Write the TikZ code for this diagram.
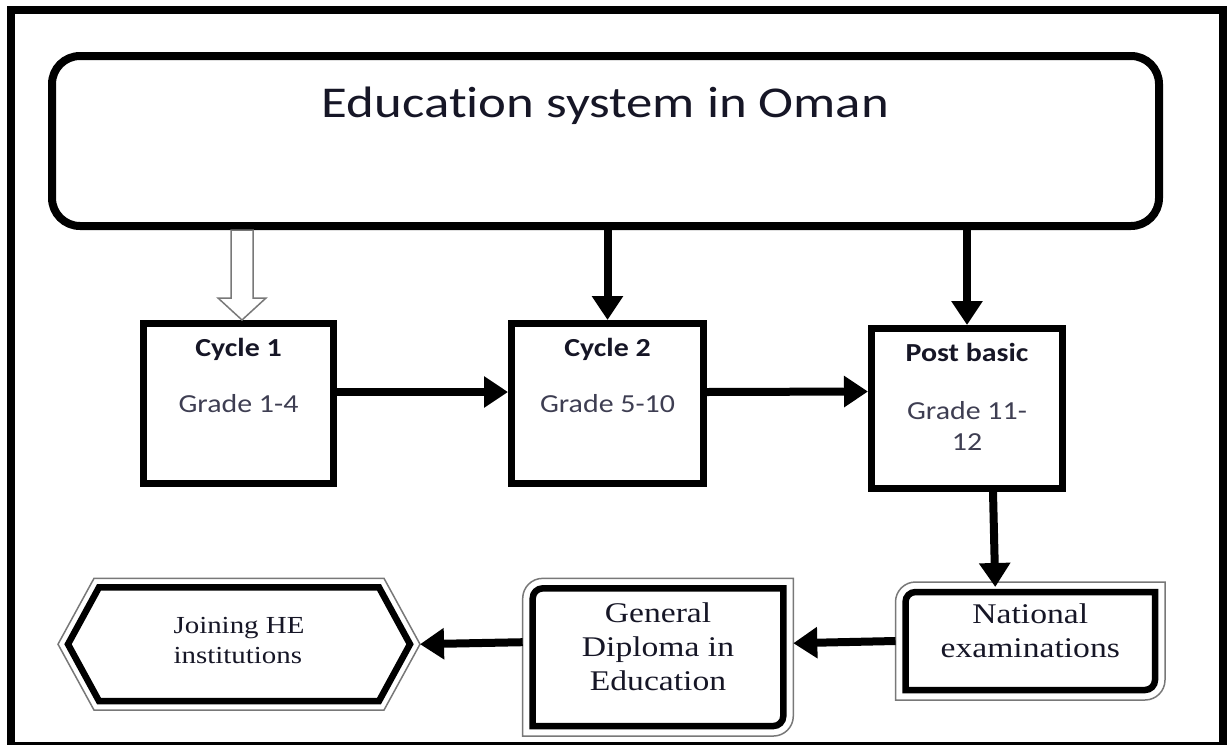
\documentclass[tikz,border=0pt]{standalone}
\usepackage{fontspec}
\usepackage{xcolor}
\usepackage{tikz}
\usetikzlibrary{positioning}
\usetikzlibrary{arrows.meta}

\newfontfamily\headfont[FakeStretch=1.2, Ligatures=NoCommon]{Carlito}
\newfontfamily\stagefont[FakeStretch=1.15, Ligatures=NoCommon]{Carlito}
\newfontfamily\examfont[FakeStretch=1.18]{Liberation Serif}

\definecolor{ink}{RGB}{22,22,38}
\definecolor{gradeink}{RGB}{62,62,82}
\definecolor{rimgray}{RGB}{120,120,120}

% height, width, gap above first line, text
\newcommand{\boxtext}[4]{\parbox[c][#1][t]{#2}{\centering\vspace*{#3}#4}}

\begin{document}
\begin{tikzpicture}[x=1pt, y=-1pt,
  headbox/.style={draw, line width=8pt, rounded corners=28pt, inner sep=0pt, text=ink},
  stage/.style={draw, line width=7pt, inner sep=0pt, text=ink},
  plate/.style={inner sep=0pt, outer sep=0pt, text=ink},
  rim/.style={draw=rimgray, line width=1.5pt},
  heavy/.style={draw=black, line width=6.5pt},
  flow/.style={line width=8pt, -{Triangle[length=24pt, width=30pt]}},
  hollow/.style={draw=rimgray, line width=1.5pt, fill=white}]
\useasboundingbox (0,0) rectangle (1230,744);
\draw [line width=8pt] (11,10) rectangle (1223,746);

\node [headbox] (sys) at (605.5,141) {\boxtext{170pt}{1107pt}{31pt}{\headfont\fontsize{44}{53}\selectfont Education system in Oman}};

\node [stage] (cyc1) at (238.5,403.5) {\boxtext{160pt}{190pt}{15pt}{\stagefont\fontsize{26}{31}\selectfont\textbf{Cycle 1}\\[25pt]\color{gradeink}Grade 1-4}};
\node [stage] (cyc2) at (607.5,403.5) {\boxtext{160pt}{192pt}{15pt}{\stagefont\fontsize{26}{31}\selectfont\textbf{Cycle 2}\\[25pt]\color{gradeink}Grade 5-10}};
\node [stage] (post) at (967,408.5) {\boxtext{160pt}{191pt}{15pt}{\stagefont\fontsize{26}{31}\selectfont\textbf{Post basic}\\[27pt]\color{gradeink}Grade 11-\\12}};

\node [plate] (nat) at (1030.25,641) {\boxtext{118pt}{269.5pt}{21.8pt}{\examfont\fontsize{28.5}{33.5}\selectfont National\\examinations}};
\node [plate] (gde) at (658,657.2) {\boxtext{157.7pt}{270.6pt}{23.9pt}{\examfont\fontsize{28.5}{34.3}\selectfont General\\Diploma in\\Education}};
\node [plate] (joi) at (239,644.2) {\boxtext{131.7pt}{362pt}{33.7pt}{\examfont\fontsize{24.5}{30}\selectfont\begin{tabular}[t]{@{}l@{}}Joining HE\\institutions\end{tabular}}};

% double rims: thin grey outside, heavy black inside
\foreach \b in {nat,gde}{
  \draw [rim] (\b.north) -- (\b.north east) [rounded corners=20pt] -- (\b.south east) [sharp corners] -- (\b.south west) [rounded corners=20pt] -- (\b.north west) [sharp corners] -- cycle;
  \draw [heavy] ([shift={(0,10)}]\b.north) -- ([shift={(-10,10)}]\b.north east) [rounded corners=10pt] -- ([shift={(-10,-10)}]\b.south east) [sharp corners] -- ([shift={(10,-10)}]\b.south west) [rounded corners=10pt] -- ([shift={(10,10)}]\b.north west) [sharp corners] -- cycle;
}
\draw [rim] (joi.west) -- ([shift={(36,0)}]joi.north west) -- ([shift={(-36,0)}]joi.north east) -- (joi.east) -- ([shift={(-36,0)}]joi.south east) -- ([shift={(36,0)}]joi.south west) -- cycle;
\draw [heavy] ([shift={(10,0)}]joi.west) -- ([shift={(41,9)}]joi.north west) -- ([shift={(-41,9)}]joi.north east) -- ([shift={(-10,0)}]joi.east) -- ([shift={(-41,-9)}]joi.south east) -- ([shift={(41,-9)}]joi.south west) -- cycle;

\draw [hollow] ([xshift=3.5pt]cyc1.north) -- ++(-24,-22) -- ++(13,0) -- ++(0,-68) -- ++(22,0) -- ++(0,68) -- ++(13,0) -- cycle;
\draw [flow] (sys.south -| cyc2.north) -- (cyc2.north);
\draw [flow] (sys.south -| post.north) -- (post.north);
\draw [flow] ([yshift=11.5pt]cyc1.east) -- ([yshift=11.5pt]cyc2.west);
\draw [flow] ([yshift=11.5pt]cyc2.east) -- ([yshift=17pt]post.west);
\draw [flow] ([xshift=26pt]post.south) -- ([shift={(-35,5)}]nat.north);
\draw [flow] (nat.west) -- ([yshift=14pt]gde.east);
\draw [flow] ([yshift=15pt]gde.west) -- (joi.east);

\end{tikzpicture}
\end{document}
